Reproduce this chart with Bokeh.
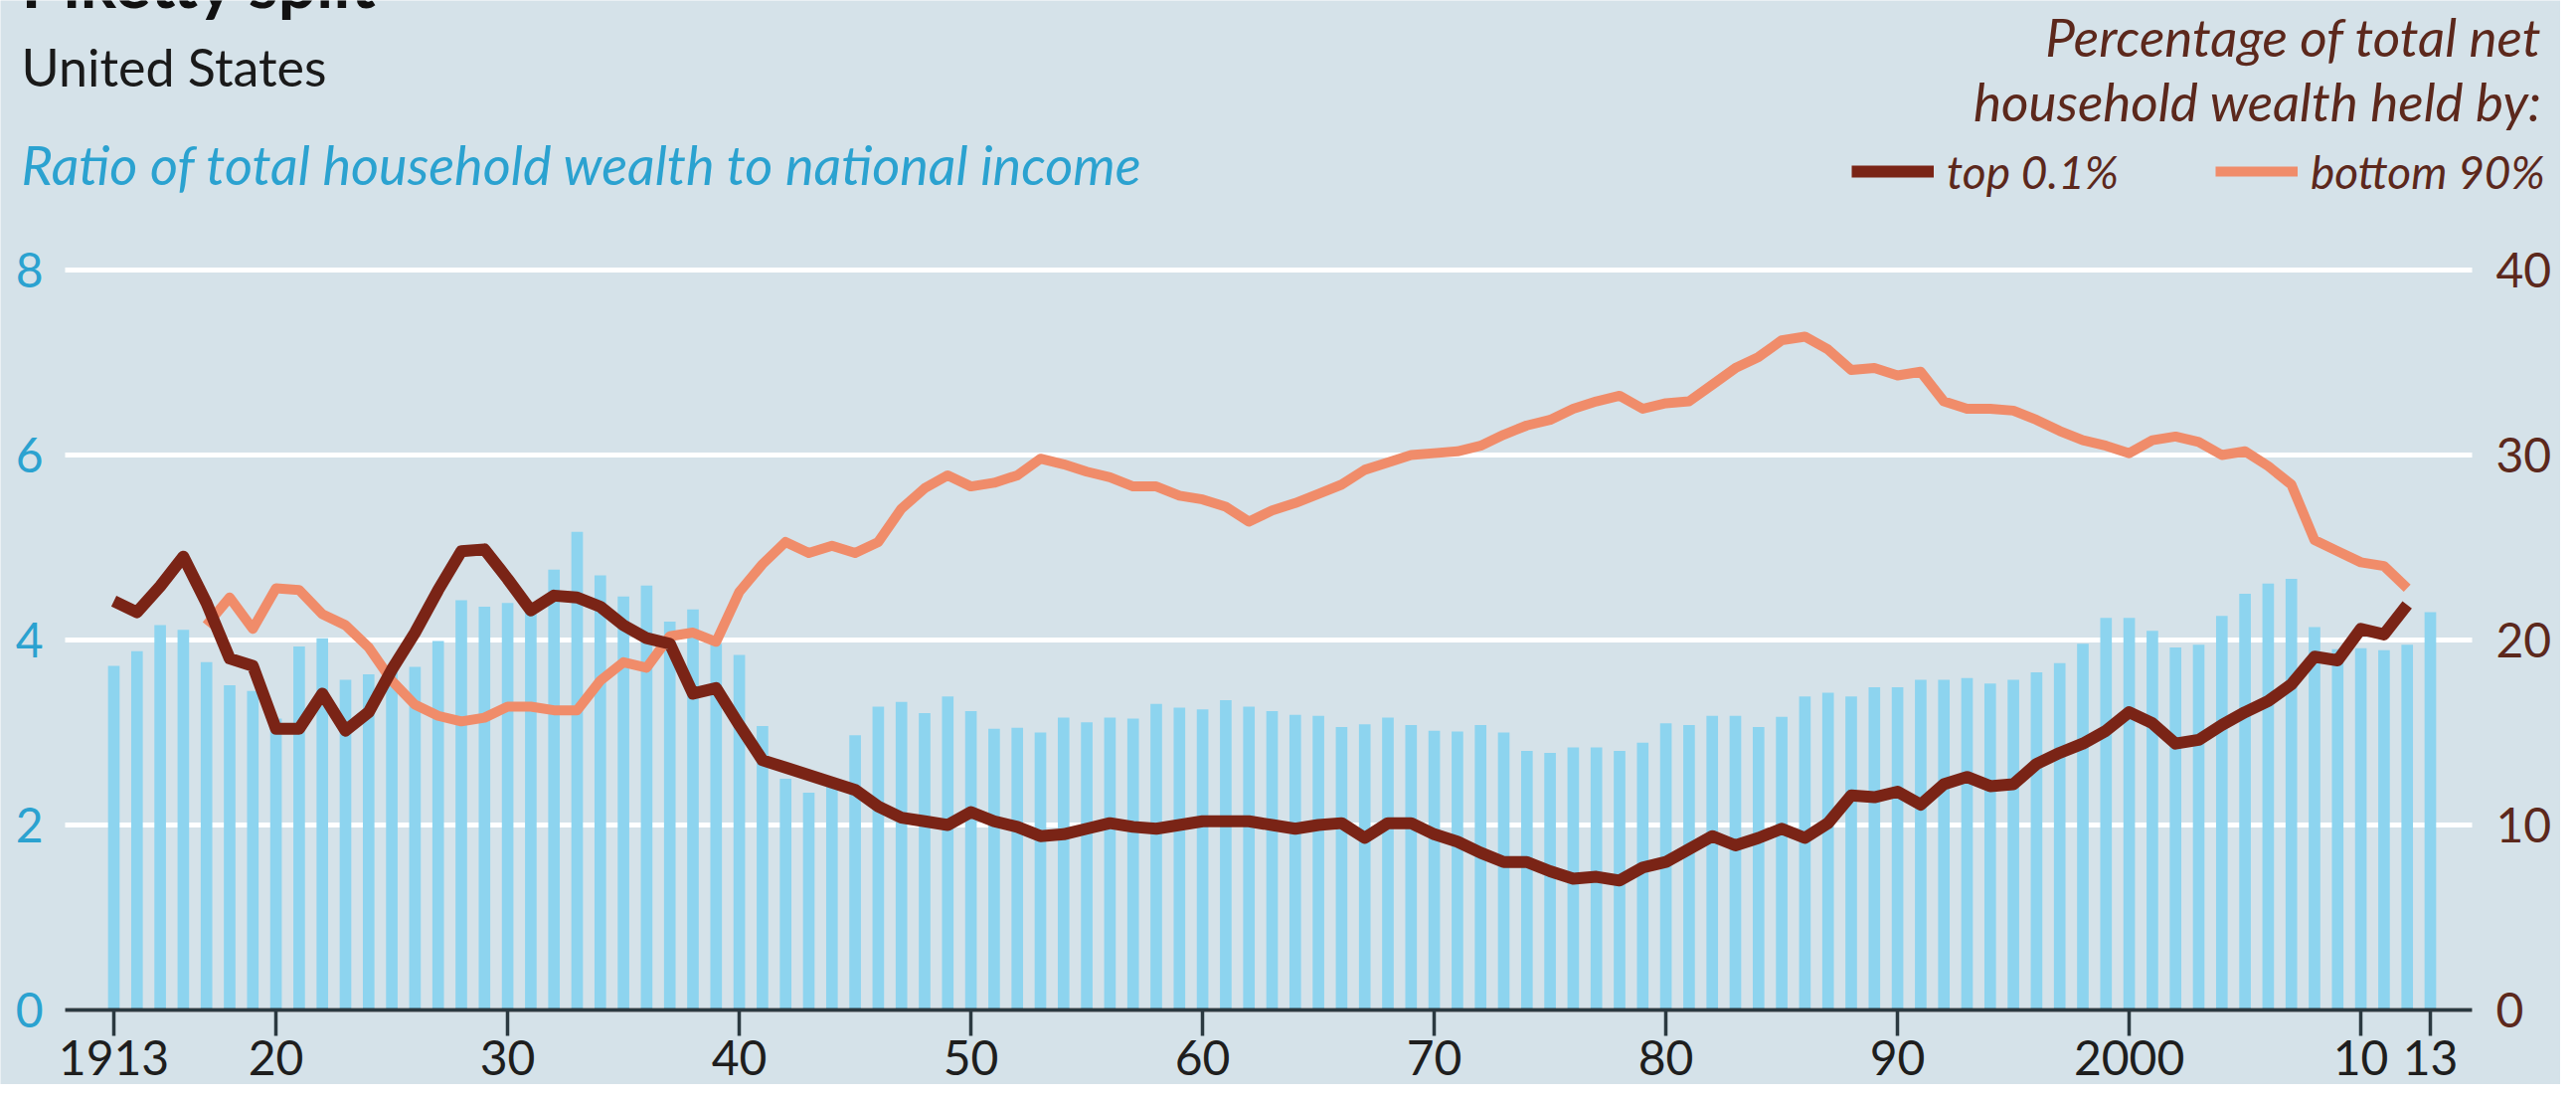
from bokeh.plotting import figure
from bokeh.models import Range1d, LinearAxis, FixedTicker, Label, Legend, LegendItem
from bokeh.embed import file_html
from bokeh.resources import INLINE

# ---------------- data ----------------
years = list(range(1913, 2014))
ratio = [
    3.72, 3.88, 4.16, 4.11, 3.76, 3.51, 3.45,                     # 1913-1919
    3.15, 3.93, 4.02, 3.57, 3.63, 3.70, 3.71, 3.99, 4.43, 4.36,   # 1920s
    4.40, 4.30, 4.76, 5.17, 4.70, 4.47, 4.59, 4.20, 4.33, 3.96,   # 1930s
    3.84, 3.07, 2.50, 2.35, 2.45, 2.97, 3.28, 3.33, 3.21, 3.39,   # 1940s
    3.23, 3.04, 3.05, 3.00, 3.16, 3.11, 3.16, 3.15, 3.31, 3.27,   # 1950s
    3.25, 3.35, 3.28, 3.23, 3.19, 3.18, 3.06, 3.09, 3.16, 3.08,   # 1960s
    3.02, 3.01, 3.08, 3.00, 2.80, 2.78, 2.84, 2.84, 2.80, 2.89,   # 1970s
    3.10, 3.08, 3.18, 3.18, 3.06, 3.17, 3.39, 3.43, 3.39, 3.49,   # 1980s
    3.49, 3.57, 3.57, 3.59, 3.53, 3.57, 3.65, 3.75, 3.96, 4.24,   # 1990s
    4.24, 4.10, 3.92, 3.95, 4.26, 4.50, 4.61, 4.66, 4.14, 3.90,   # 2000s
    3.91, 3.89, 3.95, 4.30,                                       # 2010-2013
]

top_years = list(range(1913, 2013))
top01 = [
    22.1, 21.5, 22.9, 24.5, 22.0, 19.0, 18.6,                     # 1913-1919
    15.2, 15.2, 17.1, 15.1, 16.1, 18.4, 20.4, 22.7, 24.8, 24.9,   # 1920s
    23.3, 21.6, 22.4, 22.3, 21.8, 20.8, 20.1, 19.8, 17.1, 17.4,   # 1930s
    15.4, 13.5, 13.1, 12.7, 12.3, 11.9, 11.0, 10.4, 10.2, 10.0,   # 1940s
    10.7, 10.2, 9.9, 9.4, 9.5, 9.8, 10.1, 9.9, 9.8, 10.0,         # 1950s
    10.2, 10.2, 10.2, 10.0, 9.8, 10.0, 10.1, 9.3, 10.1, 10.1,     # 1960s
    9.5, 9.1, 8.5, 8.0, 8.0, 7.5, 7.1, 7.2, 7.0, 7.7,             # 1970s
    8.0, 8.7, 9.4, 8.9, 9.3, 9.8, 9.3, 10.1, 11.6, 11.5,          # 1980s
    11.8, 11.1, 12.2, 12.6, 12.1, 12.2, 13.3, 13.9, 14.4, 15.1,   # 1990s
    16.1, 15.5, 14.4, 14.6, 15.4, 16.1, 16.7, 17.6, 19.1, 18.9,   # 2000s
    20.6, 20.3, 21.9,                                             # 2010-2012
]

bottom_years = list(range(1917, 2013))
bottom90 = [
    20.8, 22.3, 20.6,                                             # 1917-1919
    22.8, 22.7, 21.4, 20.8, 19.6, 17.8, 16.5, 15.9, 15.6, 15.8,   # 1920s
    16.4, 16.4, 16.2, 16.2, 17.8, 18.8, 18.5, 20.2, 20.4, 19.9,   # 1930s
    22.6, 24.1, 25.3, 24.7, 25.1, 24.7, 25.3, 27.1, 28.2, 28.9,   # 1940s
    28.3, 28.5, 28.9, 29.8, 29.5, 29.1, 28.8, 28.3, 28.3, 27.8,   # 1950s
    27.6, 27.2, 26.4, 27.0, 27.4, 27.9, 28.4, 29.2, 29.6, 30.0,   # 1960s
    30.1, 30.2, 30.5, 31.1, 31.6, 31.9, 32.5, 32.9, 33.2, 32.5,   # 1970s
    32.8, 32.9, 33.8, 34.7, 35.3, 36.2, 36.4, 35.7, 34.6, 34.7,   # 1980s
    34.3, 34.5, 32.9, 32.5, 32.5, 32.4, 31.9, 31.3, 30.8, 30.5,   # 1990s
    30.1, 30.8, 31.0, 30.7, 30.0, 30.2, 29.4, 28.4, 25.4, 24.8,   # 2000s
    24.2, 24.0, 22.8,                                             # 2010-2012
]

x_ticks = [1913, 1920, 1930, 1940, 1950, 1960, 1970, 1980, 1990, 2000, 2010, 2013]
x_tick_labels = ["1913", "20", "30", "40", "50", "60", "70", "80", "90", "2000", "10", "13"]
left_ticks = [0, 2, 4, 6, 8]
right_ticks = [0, 10, 20, 30, 40]

title = "Piketty split"
subtitle = "United States"
left_title = "Ratio of total household wealth to national income"
right_title_1 = "Percentage of total net"
right_title_2 = "household wealth held by:"
name_top = "top 0.1%"
name_bottom = "bottom 90%"

# ---------------- style ----------------
BG = "#d5e2e9"
BAR = "#8dd4ef"
BROWN = "#7a2416"
SALMON = "#f08c6a"
CYAN = "#2ba2d0"
DARKBROWN = "#5c281c"
TEXT = "#1e1e1e"
AXIS = "#2b3940"
FONT = "Lato"

W, H = 2575, 1090
PLOT_L, PLOT_R = 65, 2486             # canvas px where the chart area starts / ends
X_ORIGIN_PX, PX_PER_YEAR = 114, 23.3  # where 1913 sits, px per year
Y_ORIGIN_PX, PX_PER_UNIT = 1015, 93   # where ratio 0 sits, px per ratio unit


def dx(cx):
    return 1913 + (cx - X_ORIGIN_PX) / PX_PER_YEAR


def dy(cy):
    return (Y_ORIGIN_PX - cy) / PX_PER_UNIT


# the frame covers the whole canvas, axes are pinned with fixed_location
p = figure(width=W, height=H, output_backend="svg", toolbar_location=None,
           x_range=Range1d(dx(0), dx(W)), y_range=Range1d(dy(H), dy(0)),
           min_border_left=0, min_border_right=0,
           min_border_top=0, min_border_bottom=0)
p.background_fill_color = BG
p.border_fill_color = BG
p.outline_line_color = None
p.extra_y_ranges = {"pct": Range1d(dy(H) * 5, dy(0) * 5)}
p.xgrid.visible = False
p.ygrid.visible = False

# horizontal white gridlines at the left-axis ticks
p.segment(x0=[dx(PLOT_L)] * len(left_ticks), x1=[dx(PLOT_R)] * len(left_ticks),
          y0=left_ticks, y1=left_ticks, line_color="white", line_width=5)

# x axis, drawn at ratio 0
xa = p.xaxis[0]
xa.fixed_location = 0
xa.bounds = (dx(PLOT_L), dx(PLOT_R))
xa.ticker = FixedTicker(ticks=x_ticks)
xa.major_label_overrides = {t: l for t, l in zip(x_ticks, x_tick_labels)}
xa.axis_line_color = AXIS
xa.axis_line_width = 4
xa.major_tick_line_color = AXIS
xa.major_tick_line_width = 3.5
xa.major_tick_out = 26
xa.major_tick_in = 0
xa.minor_tick_line_color = None
xa.major_label_text_font = FONT
xa.major_label_text_font_size = "48px"
xa.major_label_text_color = TEXT
xa.major_label_standoff = 4

# left axis
ya = p.yaxis[0]
ya.fixed_location = dx(PLOT_L)
ya.ticker = FixedTicker(ticks=left_ticks)
ya.axis_line_color = None
ya.major_tick_line_color = None
ya.minor_tick_line_color = None
ya.major_label_text_font = FONT
ya.major_label_text_font_size = "48px"
ya.major_label_text_color = CYAN
ya.major_label_standoff = 16

# right axis
ra = LinearAxis(y_range_name="pct", ticker=FixedTicker(ticks=right_ticks),
                fixed_location=dx(PLOT_R))
ra.axis_line_color = None
ra.major_tick_line_color = None
ra.minor_tick_line_color = None
ra.major_label_text_font = FONT
ra.major_label_text_font_size = "48px"
ra.major_label_text_color = DARKBROWN
ra.major_label_standoff = 18
p.add_layout(ra, "right")

# bars
p.vbar(x=years, top=ratio, bottom=0, width=0.5, fill_color=BAR, line_color=None)

# lines
r_bot = p.line(bottom_years, bottom90, y_range_name="pct", line_color=SALMON,
               line_width=10, line_join="round", line_cap="butt")
r_top = p.line(top_years, top01, y_range_name="pct", line_color=BROWN,
               line_width=12, line_join="round", line_cap="butt")

ITEM_H = 60
for r, name, left in ((r_top, name_top, 1862), (r_bot, name_bottom, 2228)):
    bottom_cy = 172 + ITEM_H / 2
    leg = Legend(items=[LegendItem(label=name, renderers=[r])],
                 location=(left, H - bottom_cy), orientation="horizontal",
                 glyph_width=83, glyph_height=ITEM_H, label_height=ITEM_H,
                 label_standoff=13, padding=0, margin=0, spacing=0,
                 background_fill_alpha=0, border_line_alpha=0,
                 label_text_font=FONT, label_text_font_size="46px",
                 label_text_font_style="italic", label_text_color=DARKBROWN)
    p.add_layout(leg)

BASELINE_SHIFT = 0.39  # measured offset of rendered baseline, in em


def add_text(text, cx, cy, size, color, style="normal", align="left"):
    y_px = cy - BASELINE_SHIFT * size
    p.add_layout(Label(x=dx(cx), y=dy(y_px), text=text, text_font=FONT,
                       text_font_size=f"{size}px", text_font_style=style,
                       text_color=color, text_align=align,
                       text_baseline="alphabetic"))


add_text(title, 21, 8, 68, "#111111", style="bold")
add_text(subtitle, 21, 87, 52, "#1a1a1a")
add_text(left_title, 21, 186, 54, CYAN, style="italic")
add_text(right_title_1, 2556, 57, 53, DARKBROWN, style="italic", align="right")
add_text(right_title_2, 2556, 122, 53, DARKBROWN, style="italic", align="right")

open("out.html", "w").write(file_html(p, INLINE))
